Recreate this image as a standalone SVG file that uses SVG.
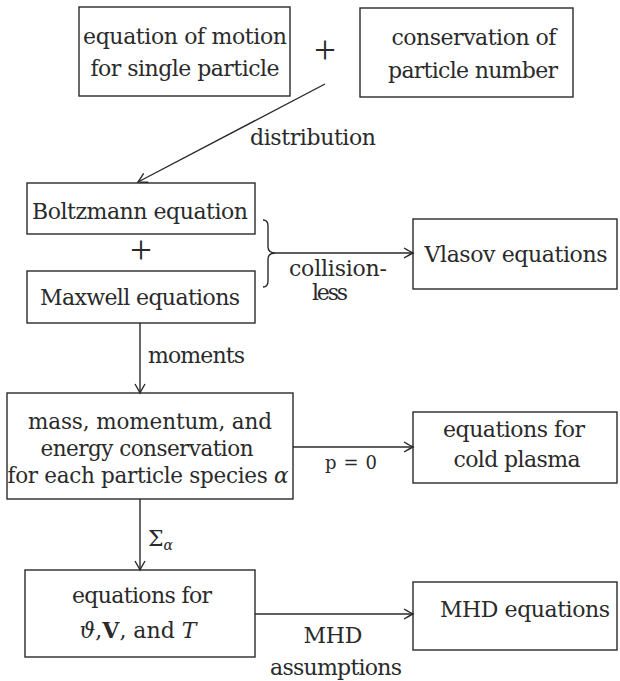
<svg xmlns="http://www.w3.org/2000/svg" width="620" height="681" viewBox="0 0 620 681">
  <style>
    text { font-family: "DejaVu Serif", "Liberation Serif", serif; }
    .box { fill: none; stroke: #2a2a2a; stroke-width: 1.4; }
    .t { font-size: 22px; fill: #2a2a2a; text-anchor: middle; }
    .m { font-size: 21.5px; }
    .s { font-size: 18px; fill: #2a2a2a; text-anchor: middle; }
    .plus { font-size: 39px; fill: #2a2a2a; text-anchor: middle; font-family: "Liberation Serif", serif; }
    .c { fill: none; stroke: #2a2a2a; stroke-width: 1.4; }
    .i { font-style: italic; }
    .b { font-weight: bold; }
  </style>
  <defs>
    <marker id="ah" markerUnits="userSpaceOnUse" markerWidth="14" markerHeight="14" viewBox="-10 -7 12 14" refX="0" refY="0" orient="auto">
      <path d="M-9,-5 Q-3,-1.5 0,0 Q-3,1.5 -9,5" fill="none" stroke="#2a2a2a" stroke-width="1.4"/>
    </marker>
  </defs>
  <rect width="620" height="681" fill="#ffffff"/>

  <g id="motion">
    <rect class="box" x="79" y="7" width="211" height="89"/>
    <text class="t" x="185" y="44" textLength="204" lengthAdjust="spacing">equation of motion</text>
    <text class="t" x="185" y="76" textLength="189" lengthAdjust="spacing">for single particle</text>
  </g>
  <g id="plus1">
    <text class="plus" x="325" y="63">+</text>
  </g>
  <g id="conservation">
    <rect class="box" x="360" y="8" width="213" height="89"/>
    <text class="t" x="474" y="45" textLength="165" lengthAdjust="spacing">conservation of</text>
    <text class="t" x="473" y="78" textLength="170" lengthAdjust="spacing">particle number</text>
  </g>
  <g id="boltzmann">
    <rect class="box" x="27" y="183" width="228" height="51"/>
    <text class="t" x="140" y="219" textLength="216" lengthAdjust="spacing">Boltzmann equation</text>
  </g>
  <g id="plus2">
    <text class="plus" x="141" y="263">+</text>
  </g>
  <g id="maxwell">
    <rect class="box" x="27" y="271" width="228" height="52"/>
    <text class="t" x="140" y="305" textLength="200" lengthAdjust="spacing">Maxwell equations</text>
  </g>
  <g id="vlasov">
    <rect class="box" x="413" y="219" width="204" height="70"/>
    <text class="t" x="516" y="262" textLength="183" lengthAdjust="spacing">Vlasov equations</text>
  </g>
  <g id="moments-box">
    <rect class="box" x="7" y="393" width="286" height="106"/>
    <text class="t m" x="150" y="429" textLength="244" lengthAdjust="spacing">mass, momentum, and</text>
    <text class="t m" x="147" y="456" textLength="213" lengthAdjust="spacing">energy conservation</text>
    <text class="t m" x="148" y="483" textLength="281" lengthAdjust="spacing">for each particle species <tspan class="i">α</tspan></text>
  </g>
  <g id="cold">
    <rect class="box" x="413" y="412" width="204" height="71"/>
    <text class="t" x="514" y="437" textLength="142" lengthAdjust="spacing">equations for</text>
    <text class="t" x="517" y="467" textLength="127" lengthAdjust="spacing">cold plasma</text>
  </g>
  <g id="fluid">
    <rect class="box" x="25" y="570" width="230" height="87"/>
    <text class="t" x="142" y="603" textLength="140" lengthAdjust="spacing">equations for</text>
    <text class="t" x="138" y="638"><tspan class="i">ϑ</tspan>,<tspan class="b">V</tspan>, and <tspan class="i">T</tspan></text>
  </g>
  <g id="mhd">
    <rect class="box" x="413" y="582" width="204" height="68"/>
    <text class="t" x="525" y="617" textLength="170" lengthAdjust="spacing">MHD equations</text>
  </g>

  <g id="connectors">
    <line class="c" x1="325" y1="84" x2="138" y2="182" marker-end="url(#ah)"/>
    <text class="t" x="313" y="145" textLength="126" lengthAdjust="spacing">distribution</text>

    <path class="c" d="M263,220 Q268,220 268,226 L268,247 Q268,253 276,253 Q268,253 268,259 L268,281 Q268,287 263,287"/>
    <line class="c" x1="276" y1="253" x2="413" y2="253" marker-end="url(#ah)"/>
    <text class="t" x="338" y="276" textLength="98" lengthAdjust="spacing">collision-</text>
    <text class="t" x="330" y="300" textLength="36" lengthAdjust="spacing">less</text>

    <line class="c" x1="140" y1="323" x2="140" y2="393" marker-end="url(#ah)"/>
    <text class="t" x="148" y="363" style="text-anchor:start" textLength="97" lengthAdjust="spacing">moments</text>

    <line class="c" x1="293" y1="447" x2="413" y2="447" marker-end="url(#ah)"/>
    <text class="s" x="351" y="469" textLength="52" lengthAdjust="spacing">p = 0</text>

    <line class="c" x1="140" y1="499" x2="140" y2="570" marker-end="url(#ah)"/>
    <text class="t" x="148" y="546" style="text-anchor:start" font-size="24">Σ<tspan class="i" font-size="14" dy="4">α</tspan></text>

    <line class="c" x1="255" y1="614" x2="413" y2="614" marker-end="url(#ah)"/>
    <text class="t" x="333" y="643" textLength="59" lengthAdjust="spacing">MHD</text>
    <text class="t" x="336" y="675" textLength="132" lengthAdjust="spacing">assumptions</text>
  </g>
</svg>
